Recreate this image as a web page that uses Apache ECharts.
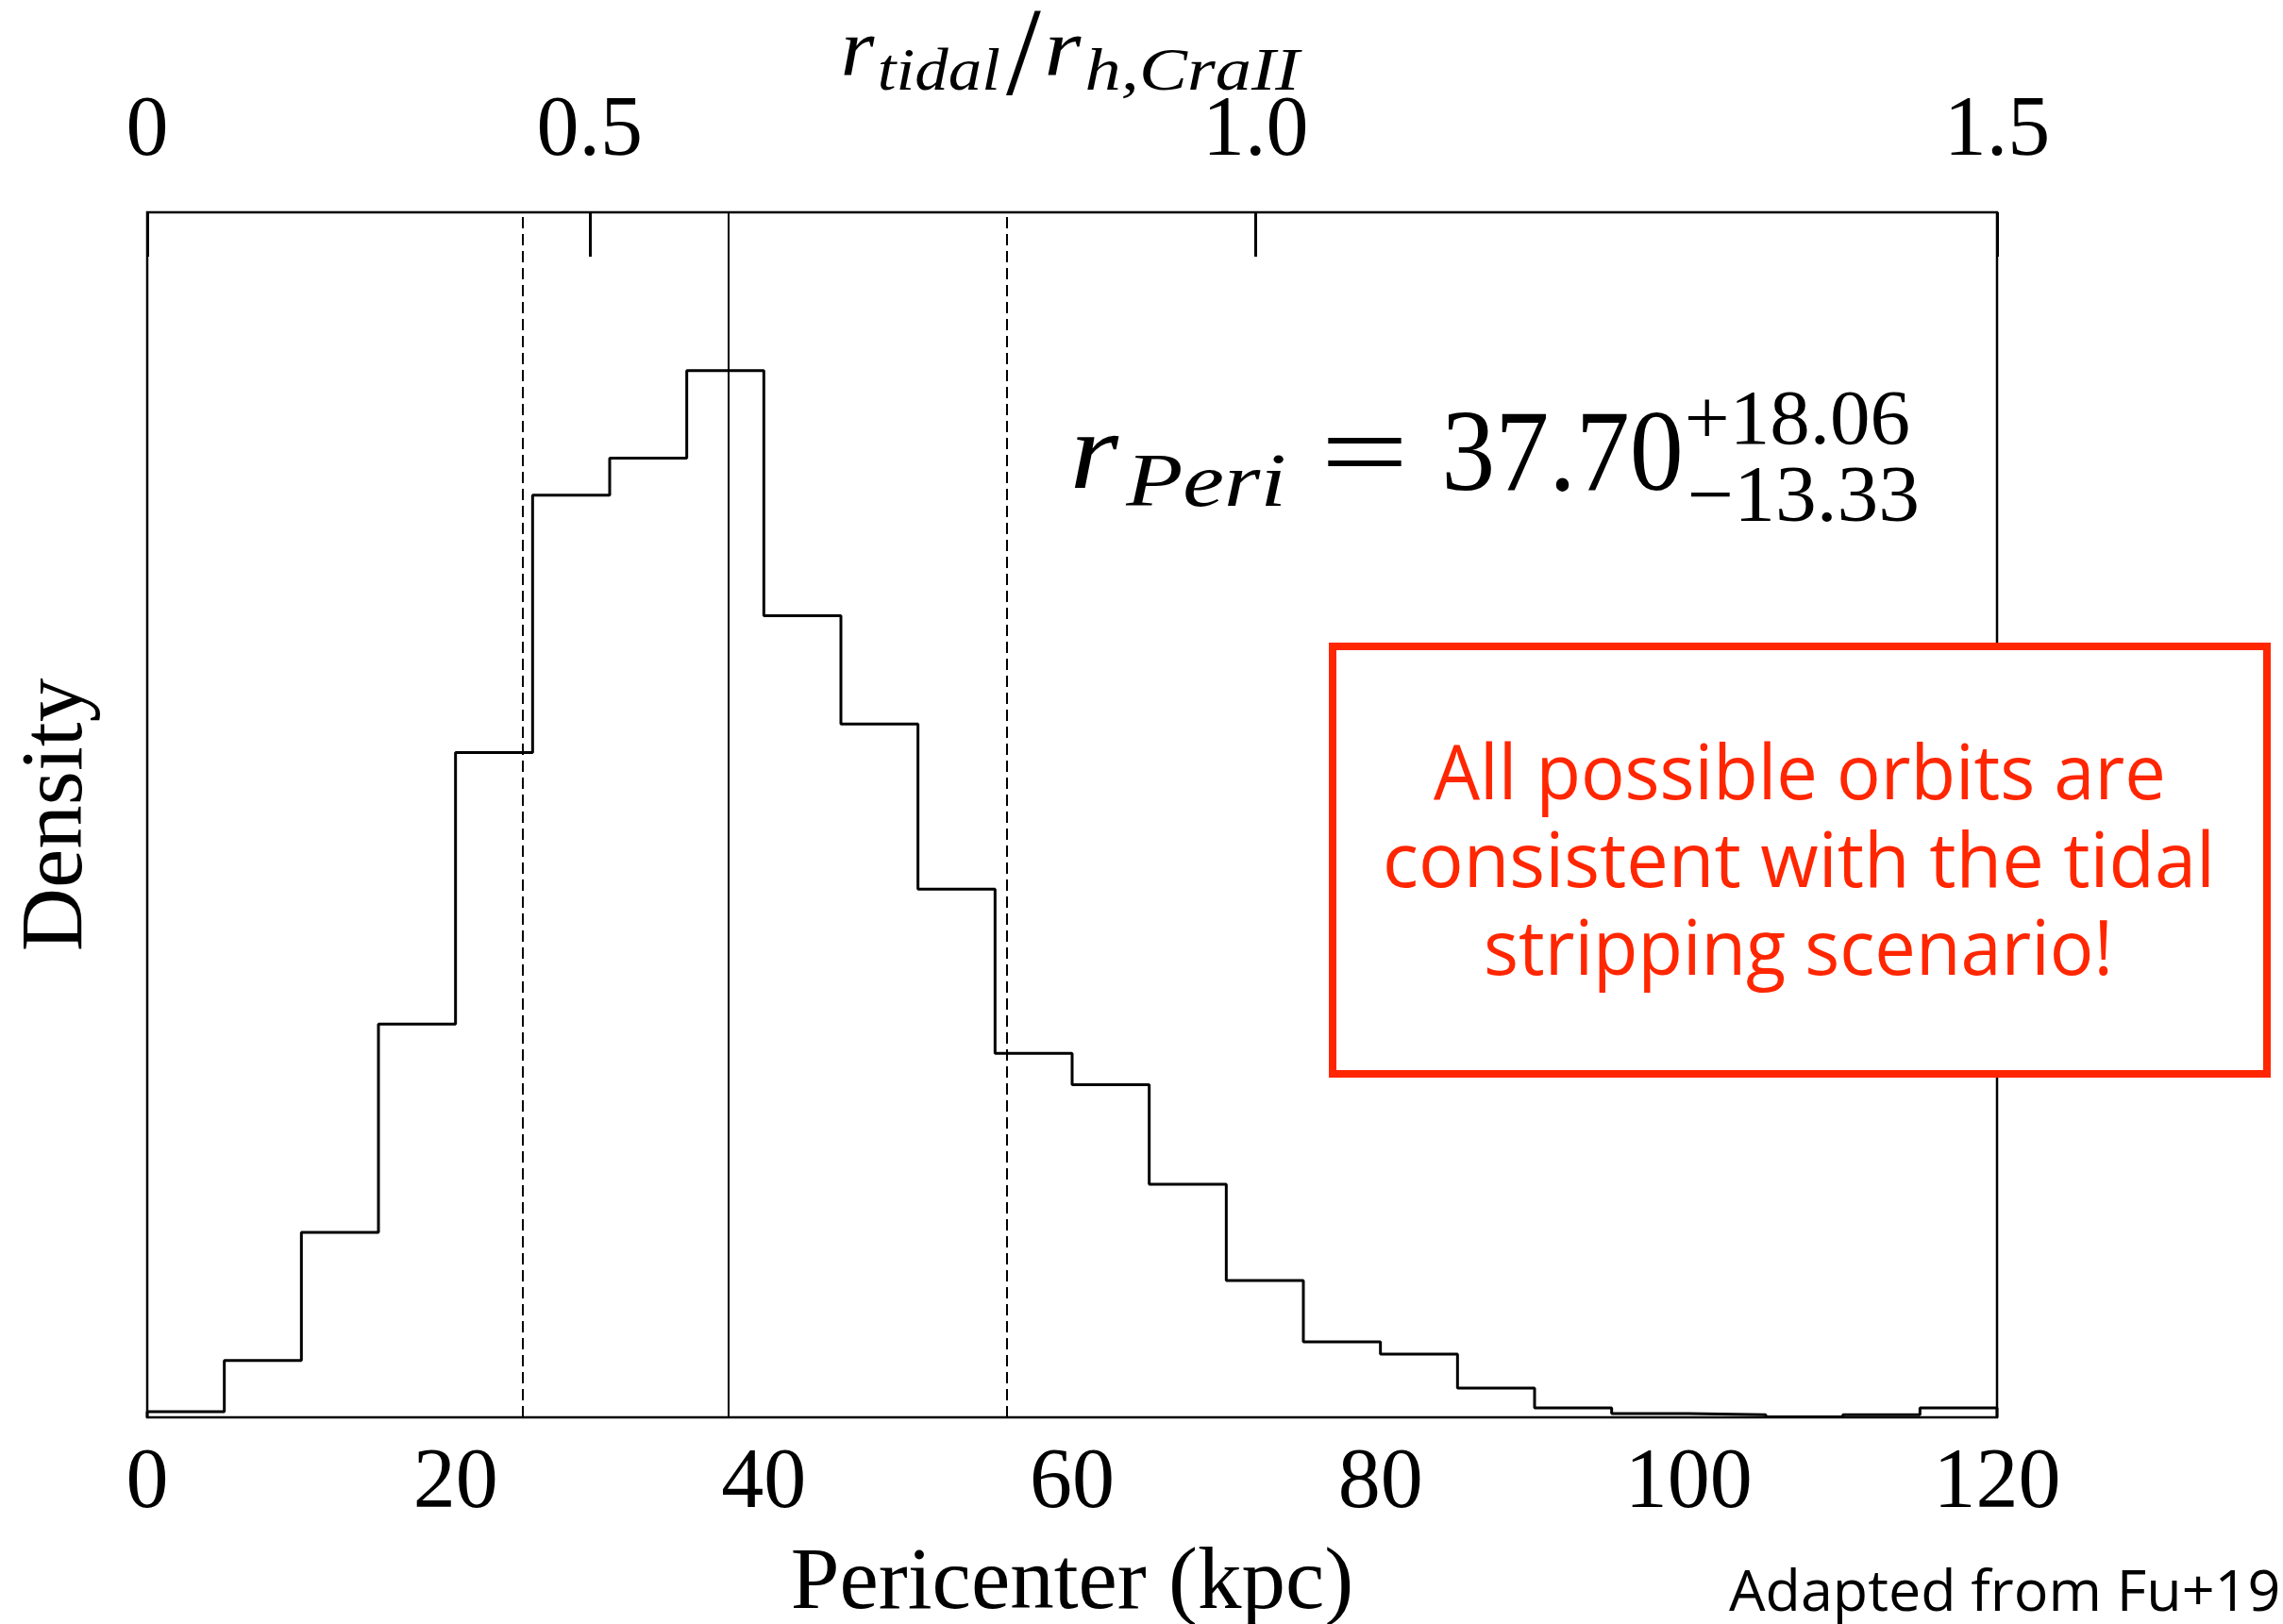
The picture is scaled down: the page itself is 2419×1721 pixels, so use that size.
<!DOCTYPE html>
<html>
<head>
<meta charset="utf-8">
<script src="https://cdn.jsdelivr.net/npm/echarts@6/dist/echarts.min.js"></script>
<style>
html,body{margin:0;padding:0;background:#fff;}
#c{width:2419px;height:1721px;}
</style>
</head>
<body>
<div id="c"></div>
<script>
// ---------------- data ----------------
// histogram bin edges (kpc)
const binEdges = [0,5,10,15,20,25,30,35,40,45,50,55,60,65,70,75,80,85,90,95,100,105,110,115,120];
// probability density per bin (kpc^-1)
const density = [0.00015,0.00151,0.00492,0.01046,0.01768,0.02453,0.02551,0.02784,
                 0.02132,0.01844,0.01405,0.00968,0.00885,0.00620,0.00364,0.00201,
                 0.00168,0.00078,0.00025,0.00010,0.00007,0.00001,0.00007,0.00025];
const densityMax = 0.03205;
// bottom axis (pericenter, kpc)
const periMin = 0, periMax = 120, periTickStep = 20;
// top axis: r_tidal / r_h,CraII labels and the pericenter they sit at
const topTickLabels = ['0','0.5','1.0','1.5'];
const topTickPeri   = [0, 28.7, 71.9, 120];
// posterior summary
const periMedian = 37.70, periErrPlus = 18.06, periErrMinus = 13.33;
const boxLines = ['All possible orbits are', 'consistent with the tidal', 'stripping scenario!'];
const creditText = 'Adapted from Fu+19';

// ---------------- helpers ----------------
const serif = '"Liberation Serif", "Times New Roman", serif';
const sans = '"Open Sans", "Noto Sans", sans-serif';
const red = '#ff2600';
const mctx = document.createElement('canvas').getContext('2d');
function fitText(o) {
  mctx.font = o.font; mctx.textAlign = 'left'; mctx.textBaseline = 'middle';
  const m = mctx.measureText(o.text);
  const inkW = m.actualBoundingBoxLeft + m.actualBoundingBoxRight;
  const sx = o.width ? o.width / inkW : 1;
  const d = mctx.measureText('H').actualBoundingBoxDescent;
  let left = o.left;
  if (o.center != null) left = o.center - o.width / 2;
  if (o.right != null) left = o.right - o.width;
  let y = o.baseline - d, sy = 1;
  if (o.height != null) {
    sy = o.height / (m.actualBoundingBoxAscent + m.actualBoundingBoxDescent);
    y = o.top + m.actualBoundingBoxAscent * sy;
  }
  return {
    type: 'text', x: left + m.actualBoundingBoxLeft * sx, y: y,
    scaleX: sx, scaleY: sy, z: 101, silent: true,
    style: { text: o.text, font: o.font, fill: o.fill || '#000',
             textAlign: 'left', verticalAlign: 'middle', textVerticalAlign: 'middle' }
  };
}

// ---------------- histogram path data ----------------
const histData = [[binEdges[0], 0]];
density.forEach((d, i) => histData.push([binEdges[i], d]));
histData.push([binEdges[binEdges.length - 1], density[density.length - 1]]);
histData.push([binEdges[binEdges.length - 1], 0]);

// ---------------- graphics (annotations) ----------------
const graphics = [];
// title  r_tidal / r_h,CraII
graphics.push(fitText({text:'r', font:'italic 86px ' + serif, left:894, width:33, baseline:80}));
graphics.push(fitText({text:'tidal', font:'italic 64px ' + serif, left:932, width:127, baseline:95}));
graphics.push(fitText({text:'/', font:'86px ' + serif, left:1066, width:37, top:12, height:90}));
graphics.push(fitText({text:'r', font:'italic 86px ' + serif, left:1110, width:36, baseline:80}));
graphics.push(fitText({text:'h,CraII', font:'italic 64px ' + serif, left:1152, width:228, baseline:95}));
// r_Peri = 37.70 +18.06 -13.33
graphics.push(fitText({text:'r', font:'italic 116px ' + serif, left:1138, width:48, baseline:517}));
graphics.push(fitText({text:'Peri', font:'italic 80px ' + serif, left:1192, width:168, baseline:536}));
graphics.push(fitText({text:'=', font:'120px ' + serif, left:1406, width:79, baseline:519}));
graphics.push(fitText({text:periMedian.toFixed(2), font:'122px ' + serif, left:1532, width:248, baseline:519}));
graphics.push(fitText({text:'+' + periErrPlus.toFixed(2), font:'82px ' + serif, left:1789, width:233, baseline:470}));
graphics.push(fitText({text:'\u2212' + periErrMinus.toFixed(2), font:'84px ' + serif, left:1792, width:239, baseline:552}));
// red box
graphics.push({type:'rect', z:100, silent:true,
  shape:{x:1412, y:685, width:990, height:453},
  style:{fill:'#fff', stroke:red, lineWidth:8}});
const boxWidths = [772, 872, 658];
const boxBase = [847, 940, 1033];
boxLines.forEach((t, i) => graphics.push(fitText({text:t, font:'80px ' + sans, center:1905, width:boxWidths[i], baseline:boxBase[i], fill:red})));
// credit
graphics.push(fitText({text:creditText, font:'60px ' + sans, right:2414, width:582, baseline:1707}));

// ---------------- chart ----------------
const chart = echarts.init(document.getElementById('c'), null, {renderer:'canvas', width:2419, height:1721});
const option = {
  animation: false,
  backgroundColor: '#fff',
  grid: {left:156, right:303, top:225, bottom:219, show:true, borderColor:'#000', borderWidth:2.5,
         backgroundColor:'transparent', containLabel:false, outerBoundsMode:'none'},
  xAxis: [
    {type:'value', position:'bottom', min:periMin, max:periMax, interval:periTickStep,
     axisLine:{show:false}, axisTick:{show:false}, splitLine:{show:false},
     axisLabel:{fontFamily:serif, fontSize:90, color:'#000', margin:26, showMinLabel:true, showMaxLabel:true},
     name:'Pericenter (kpc)', nameLocation:'middle', nameGap:131, nameMoveOverlap:false,
     nameTextStyle:{fontFamily:serif, fontSize:93, color:'#000'}},
    {type:'value', position:'top', min:periMin, max:periMax,
     axisLine:{show:false}, splitLine:{show:false},
     axisTick:{show:true, inside:true, length:47, customValues:topTickPeri, lineStyle:{color:'#000', width:3}},
     axisLabel:{customValues:topTickPeri, fontFamily:serif, fontSize:90, color:'#000', margin:40,
       formatter: function (v) {
         let best = 0;
         topTickPeri.forEach((p, i) => { if (Math.abs(p - v) < Math.abs(topTickPeri[best] - v)) best = i; });
         return topTickLabels[best];
       }}}
  ],
  yAxis: {type:'value', min:0, max:densityMax,
    axisLine:{show:false}, axisTick:{show:false}, axisLabel:{show:false}, splitLine:{show:false},
    name:'Density', nameLocation:'middle', nameRotate:90, nameGap:48, nameMoveOverlap:false,
    nameTextStyle:{fontFamily:serif, fontSize:93, color:'#000'}},
  series: [{
    type:'line', xAxisIndex:0, yAxisIndex:0, data:histData, step:'end',
    showSymbol:false, symbol:'none', silent:true,
    lineStyle:{color:'#000', width:3},
    markLine:{silent:true, symbol:['none','none'], label:{show:false},
      lineStyle:{color:'#000', width:2, type:'solid'},
      data:[
        {xAxis: periMedian - periErrMinus, lineStyle:{type:[12,6], color:'#000', width:2}},
        {xAxis: periMedian, lineStyle:{type:'solid', color:'#000', width:2}},
        {xAxis: periMedian + periErrPlus, lineStyle:{type:[12,6], color:'#000', width:2}}
      ]}
  }],
  graphic: graphics
};
chart.setOption(option);
</script>
</body>
</html>
